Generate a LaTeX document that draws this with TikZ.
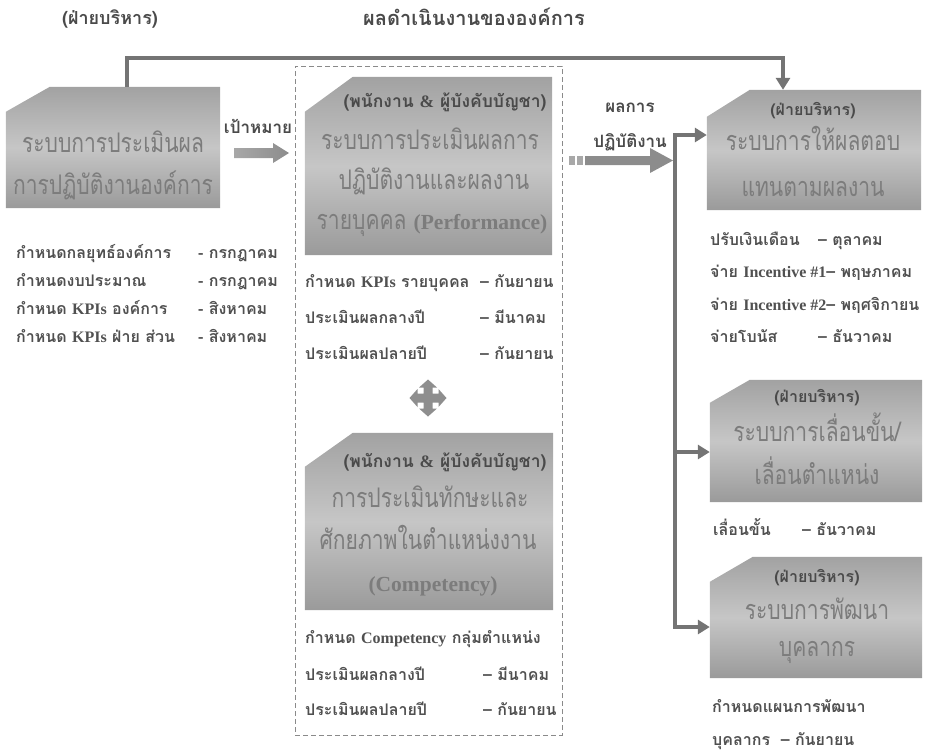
\documentclass[tikz,border=0pt]{standalone}
\usepackage{fontspec}
\setmainfont{Loma}[Script=Thai]
\newfontfamily\bigf{Loma}[Script=Thai, FakeStretch=0.78]
\newfontfamily\enf{Liberation Serif}
\newcommand\en[1]{{\enf\bfseries #1}}
\newcommand\enbig[1]{{\fontsize{21.5}{22}\enf\bfseries #1}}
\usetikzlibrary{calc,arrows.meta}
\definecolor{txt}{HTML}{505050}
\definecolor{boxtxt}{HTML}{7C7C7C}
\definecolor{headc}{HTML}{4A4A4A}
\definecolor{linec}{HTML}{747474}
\definecolor{btop}{HTML}{A2A2A2}
\definecolor{bmid}{HTML}{C6C6C6}
\definecolor{bbot}{HTML}{9A9A9A}
\definecolor{arrl}{HTML}{A8A8A8}
\definecolor{arrd}{HTML}{8C8C8C}
\definecolor{dashc}{HTML}{8A8A8A}
\definecolor{fourc}{HTML}{8E8E8E}
\begin{document}
\begin{tikzpicture}[x=1pt,y=-1pt,
  boxarea/.style={rectangle, inner sep=0pt, draw=none},
  boxshade/.style={top color=btop, bottom color=bbot, middle color=bmid},
  bigtxt/.style={font=\bigf\fontsize{27}{27}\selectfont, text=boxtxt, anchor=base, inner sep=0pt},
  headtxt/.style={font=\fontsize{16}{16}\selectfont\bfseries, text=headc, anchor=base, inner sep=0pt},
  labtxt/.style={font=\fontsize{17}{17}\selectfont\bfseries, text=headc, anchor=base, inner sep=0pt},
  listtxt/.style={font=\fontsize{16}{16}\selectfont\bfseries, text=txt, anchor=base west, inner sep=0pt},
  conn/.style={draw=linec, line width=4pt, line join=miter},
  tip/.style={-{Triangle[length=12pt,width=14pt]}},
]
\useasboundingbox (0,0) rectangle (943,753);

% headers
\node[headtxt, font=\fontsize{18}{18}\selectfont\bfseries] (hdrL) at (110,24) {(ฝ่ายบริหาร)};
\node[headtxt, font=\fontsize{20}{20}\selectfont\bfseries] (title) at (474,25) {ผลดำเนินงานขององค์การ};

% left box
\node[boxarea, minimum width=214, minimum height=121] (L) at (113,147.5) {};
\shade[boxshade] (L.south west) -- ([yshift=-25]L.north west) -- ([xshift=44]L.north west) -- (L.north east) -- (L.south east) -- cycle;
\node[bigtxt] (Lt1) at (113,152) {ระบบการประเมินผล};
\node[bigtxt] (Lt2) at (113,194) {การปฏิบัติงานองค์การ};

\node[listtxt] (la1) at (16,258) {กำหนดกลยุทธ์องค์การ};
\node[listtxt] (lb1) at (198,258) {- กรกฎาคม};
\node[listtxt] (la2) at (16,286) {กำหนดงบประมาณ};
\node[listtxt] (lb2) at (198,286) {- กรกฎาคม};
\node[listtxt] (la3) at (16,314) {กำหนด \en{KPIs} องค์การ};
\node[listtxt] (lb3) at (198,314) {- สิงหาคม};
\node[listtxt] (la4) at (16,342) {กำหนด \en{KPIs} ฝ่าย ส่วน};
\node[listtxt] (lb4) at (198,342) {- สิงหาคม};

% goal arrow
\node[labtxt] (goal) at (258,133) {เป้าหมาย};
\shade[left color=arrl, right color=arrd] (234,148) -- (273,148) -- (273,143) -- (289,153) -- (273,163) -- (273,158) -- (234,158) -- cycle;

% dashed frame
\node[boxarea, draw=dashc, dash pattern=on 5pt off 3pt, line width=0.8pt, minimum width=267, minimum height=669] (D) at (428.5,400.5) {};

% middle box 1
\node[boxarea, minimum width=247, minimum height=178] (M1) at (428.5,166) {};
\shade[boxshade] (M1.south west) -- ([yshift=-35]M1.north west) -- ([xshift=48]M1.north west) -- (M1.north east) -- (M1.south east) -- cycle;
\node[headtxt, font=\fontsize{17.5}{17.5}\selectfont\bfseries] (M1h) at (445,107) {(พนักงาน \en{\&} ผู้บังคับบัญชา)};
\node[bigtxt] (M1t1) at (430,149) {ระบบการประเมินผลการ};
\node[bigtxt] (M1t2) at (434,189) {ปฏิบัติงานและผลงาน};
\node[bigtxt] (M1t3) at (432,229) {รายบุคคล \enbig{(Performance)}};

\node[listtxt] (ma1) at (305,287) {กำหนด \en{KPIs} รายบุคคล};
\node[listtxt] (mb1) at (480,287) {– กันยายน};
\node[listtxt] (ma2) at (305,323) {ประเมินผลกลางปี};
\node[listtxt] (mb2) at (480,323) {– มีนาคม};
\node[listtxt] (ma3) at (305,359) {ประเมินผลปลายปี};
\node[listtxt] (mb3) at (480,359) {– กันยายน};

% four-way arrow
\begin{scope}[shift={(428,398)}]
\fill[fourc] (4.5,-4.5) -- (10.5,-4.5) -- (10.5,-9) -- (18.5,0) -- (10.5,9) -- (10.5,4.5) -- (4.5,4.5)
 -- (4.5,10.5) -- (9,10.5) -- (0,18.5) -- (-9,10.5) -- (-4.5,10.5) -- (-4.5,4.5)
 -- (-10.5,4.5) -- (-10.5,9) -- (-18.5,0) -- (-10.5,-9) -- (-10.5,-4.5) -- (-4.5,-4.5)
 -- (-4.5,-10.5) -- (-9,-10.5) -- (0,-18.5) -- (9,-10.5) -- (4.5,-10.5) -- cycle;
\end{scope}

% middle box 2
\node[boxarea, minimum width=248, minimum height=177] (M2) at (429,521.5) {};
\shade[boxshade] (M2.south west) -- ([yshift=-34]M2.north west) -- ([xshift=48]M2.north west) -- (M2.north east) -- (M2.south east) -- cycle;
\node[headtxt, font=\fontsize{17.5}{17.5}\selectfont\bfseries] (M2h) at (445,467) {(พนักงาน \en{\&} ผู้บังคับบัญชา)};
\node[bigtxt] (M2t1) at (430,507) {การประเมินทักษะและ};
\node[bigtxt] (M2t2) at (428,549) {ศักยภาพในตำแหน่งงาน};
\node[bigtxt] (M2t3) at (433,591) {\enbig{(Competency)}};

\node[listtxt] (na1) at (305,643) {กำหนด \en{Competency} กลุ่มตำแหน่ง};
\node[listtxt] (na2) at (305,680) {ประเมินผลกลางปี};
\node[listtxt] (nb2) at (483,680) {– มีนาคม};
\node[listtxt] (na3) at (305,715) {ประเมินผลปลายปี};
\node[listtxt] (nb3) at (483,715) {– กันยายน};

% result arrow
\node[labtxt] (res1) at (630,112) {ผลการ};
\node[labtxt] (res2) at (630,147) {ปฏิบัติงาน};
\fill[arrl] (569,156) rectangle (575,165);
\fill[arrl] (577,156) rectangle (583,165);
\fill[arrd] (585,156) -- (650,156) -- (650,148) -- (673,160.5) -- (650,173) -- (650,165) -- (585,165) -- cycle;

% right box 1
\node[boxarea, minimum width=214, minimum height=120] (R1) at (814,150) {};
\shade[boxshade] (R1.south west) -- ([yshift=-27]R1.north west) -- ([xshift=43]R1.north west) -- (R1.north east) -- (R1.south east) -- cycle;
\node[headtxt] (R1h) at (813,115) {(ฝ่ายบริหาร)};
\node[bigtxt] (R1t1) at (813,150) {ระบบการให้ผลตอบ};
\node[bigtxt] (R1t2) at (813,196) {แทนตามผลงาน};

\node[listtxt] (ra1) at (710,245) {ปรับเงินเดือน};
\node[listtxt] (rb1) at (818,245) {– ตุลาคม};
\node[listtxt] (ra2) at (710,277) {จ่าย \en{Incentive \#1}– พฤษภาคม};
\node[listtxt] (ra3) at (710,310) {จ่าย \en{Incentive \#2}– พฤศจิกายน};
\node[listtxt] (ra4) at (710,342) {จ่ายโบนัส};
\node[listtxt] (rb4) at (818,342) {– ธันวาคม};

% right box 2
\node[boxarea, minimum width=212, minimum height=122] (R2) at (816,441) {};
\shade[boxshade] (R2.south west) -- ([yshift=-23]R2.north west) -- ([xshift=40]R2.north west) -- (R2.north east) -- (R2.south east) -- cycle;
\node[headtxt] (R2h) at (817,402) {(ฝ่ายบริหาร)};
\node[bigtxt] (R2t1) at (817,441) {ระบบการเลื่อนขั้น/};
\node[bigtxt] (R2t2) at (817,484) {เลื่อนตำแหน่ง};
\node[listtxt] (sa1) at (713,535) {เลื่อนขั้น};
\node[listtxt] (sb1) at (802,535) {– ธันวาคม};

% right box 3
\node[boxarea, minimum width=212, minimum height=121] (R3) at (816,617.5) {};
\shade[boxshade] (R3.south west) -- ([yshift=-25]R3.north west) -- ([xshift=43]R3.north west) -- (R3.north east) -- (R3.south east) -- cycle;
\node[headtxt] (R3h) at (817,582) {(ฝ่ายบริหาร)};
\node[bigtxt] (R3t1) at (817,619) {ระบบการพัฒนา};
\node[bigtxt] (R3t2) at (817,656) {บุคลากร};
\node[listtxt] (ta1) at (712,712) {กำหนดแผนการพัฒนา};
\node[listtxt] (ta2) at (712,745) {บุคลากร \ – กันยายน};

% connectors
\coordinate (B1) at (675,135);
\coordinate (B2) at (675,452);
\coordinate (B3) at (675,627);
\draw[conn,tip] ([xshift=14]L.north) -- ++(0,-29) -| ([xshift=-31]R1.north);
\draw[conn,{Triangle[length=12pt,width=14pt]}-{Triangle[length=12pt,width=14pt]}] (R1.west |- B1) -- (B1) -- (B3) -- (R3.west |- B3);
\draw[conn,tip] (B2) -- (R2.west |- B2);
\end{tikzpicture}
\end{document}
